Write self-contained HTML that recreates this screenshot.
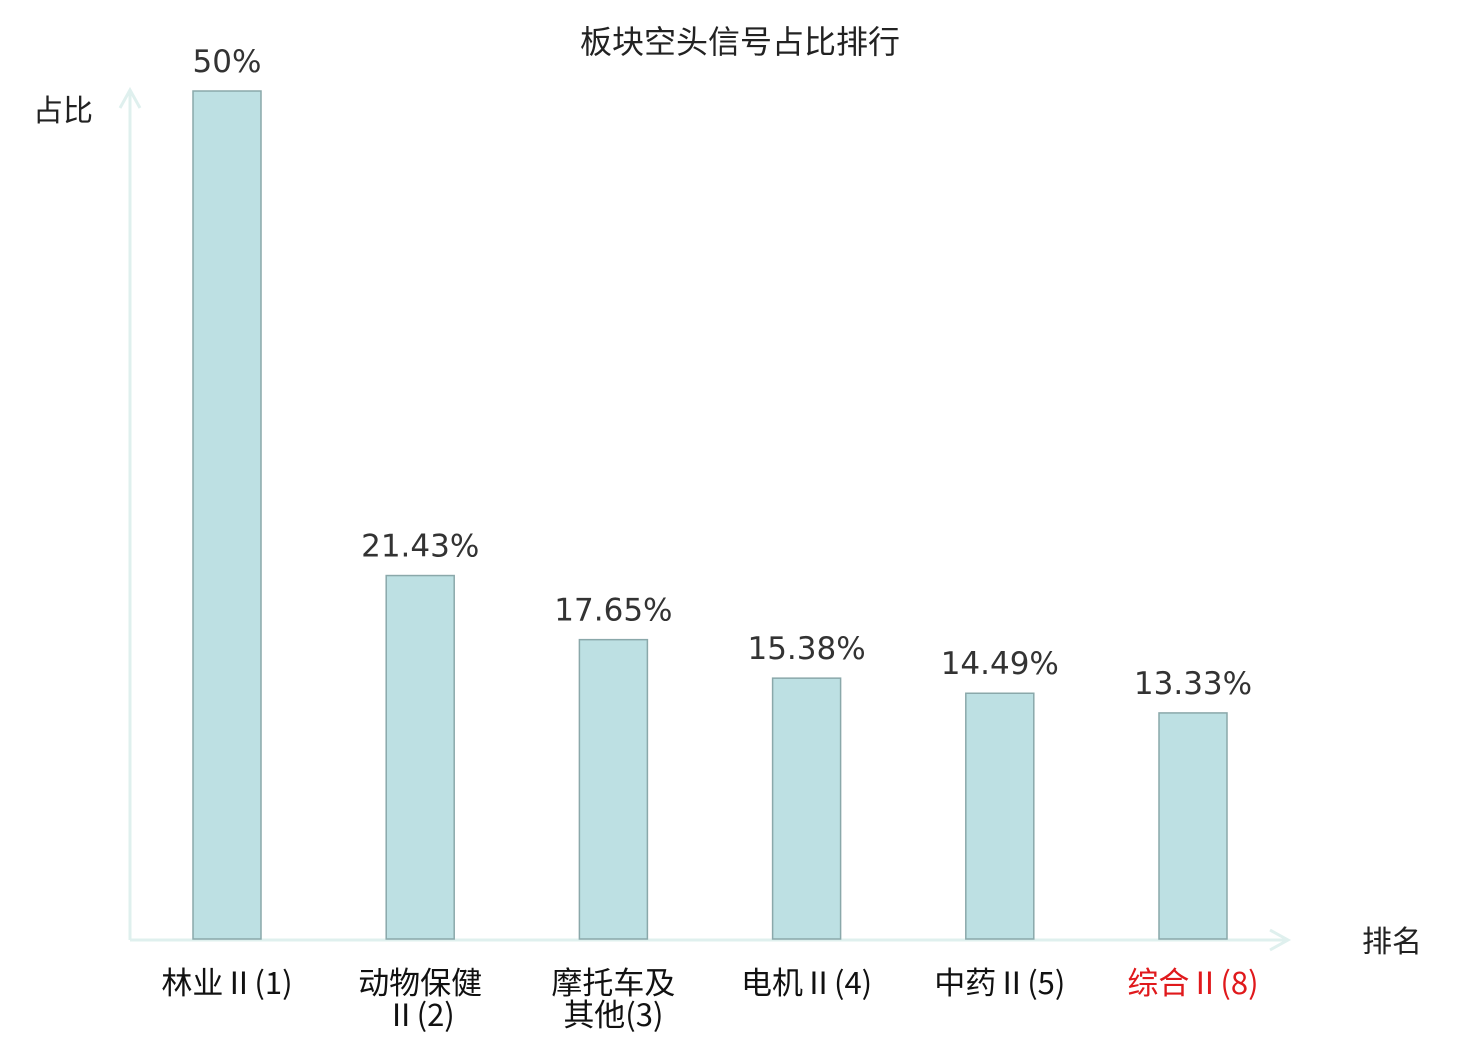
<!DOCTYPE html>
<html><head><meta charset="utf-8"><style>
html,body{margin:0;padding:0;background:#fff;width:1480px;height:1040px;overflow:hidden}
svg text{font-family:"Noto Sans CJK SC","WenQuanYi Zen Hei",sans-serif}
.val{font-family:"DejaVu Sans","Liberation Sans",sans-serif;font-size:31px;fill:#333}
</style></head><body>
<svg id="chart" width="1480" height="1040" xmlns="http://www.w3.org/2000/svg">
<text x="740" y="53" text-anchor="middle" font-size="32" fill="#222">板块空头信号占比排行</text>
<text x="63" y="121" text-anchor="middle" font-size="30" fill="#222">占比</text>
<text x="1392" y="952" text-anchor="middle" font-size="30" fill="#222">排名</text>
<g>
<line x1="130" y1="940" x2="130" y2="90" stroke="#dff0ee" stroke-width="3"/>
<polyline points="120,108 130,90 140,108" fill="none" stroke="#dff0ee" stroke-width="3"/>
</g>
<g>
<line x1="130" y1="940" x2="1288" y2="940" stroke="#dff0ee" stroke-width="3"/>
<polyline points="1270,930 1288,940 1270,950" fill="none" stroke="#dff0ee" stroke-width="3"/>
</g>
<g id="bars"></g>
</svg>
<script>
const categories=[["林业Ⅱ(1)"],["动物保健","Ⅱ(2)"],["摩托车及","其他(3)"],["电机Ⅱ(4)"],["中药Ⅱ(5)"],["综合Ⅱ(8)"]];
const values=[50,21.43,17.65,15.38,14.49,13.33];
const valueLabels=["50%","21.43%","17.65%","15.38%","14.49%","13.33%"];
const highlight=[false,false,false,false,false,true];
const NS="http://www.w3.org/2000/svg";
const g=document.getElementById('bars');
const x0=227,step=193.2,base=939,maxV=50,maxH=848,bw=68;
const xs=i=>x0+i*step;
const ys=v=>base-v/maxV*maxH;
values.forEach((v,i)=>{
  const r=document.createElementNS(NS,'rect');
  
  
  r.setAttribute('x',xs(i)-bw/2);r.setAttribute('y',ys(v));
  r.setAttribute('width',bw);r.setAttribute('height',base-ys(v));
  r.setAttribute('fill','#bde0e3');r.setAttribute('stroke','#8aa8aa');r.setAttribute('stroke-width','1.5');
  g.appendChild(r);
  const t=document.createElementNS(NS,'text');
  
  
  t.setAttribute('class','val');t.setAttribute('x',xs(i));t.setAttribute('y',ys(v)-19);
  t.setAttribute('text-anchor','middle');t.textContent=valueLabels[i];
  g.appendChild(t);
  categories[i].forEach((line,j)=>{
    const c=document.createElementNS(NS,'text');
    
    
    c.setAttribute('x',xs(i));c.setAttribute('y',994+j*32);
    c.setAttribute('text-anchor','middle');c.setAttribute('font-size','31');
    c.setAttribute('fill',highlight[i]?'#e0191c':'#111');
    c.textContent=line;
    g.appendChild(c);
  });
});
</script>
</body></html>
